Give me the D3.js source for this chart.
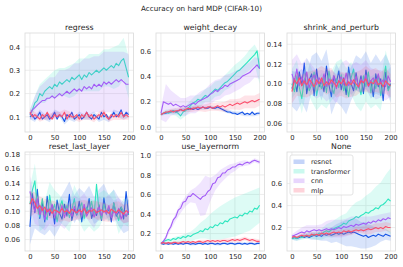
<!DOCTYPE html>
<html>
<head>
<meta charset="utf-8">
<script src="https://cdn.jsdelivr.net/npm/d3@7"></script>
<style>
  body { margin: 0; background: #fff; }
  text { font-family: "DejaVu Sans", sans-serif; fill: #262626; }
</style>
</head>
<body>
<script>
////// data: mean accuracy every 5 steps, spread every 10 steps

const models = ["resnet", "transformer", "cnn", "mlp"];
const colors = ["#1554e6", "#2ee6bf", "#a35cf7", "#fb4f6d"];
const steps = d3.range(0, 201, 5);
const sdSteps = d3.range(0, 201, 10);
const xTicks = [0, 50, 100, 150, 200];

const regressResnet = [0.10,0.11,0.09,0.10,0.12,0.09,0.10,0.11,0.09,0.10,0.12,0.09,0.11,0.10,0.08,0.11,0.10,0.12,0.09,0.10,0.11,0.09,0.10,0.12,0.10,0.09,0.11,0.10,0.09,0.12,0.10,0.11,0.09,0.10,0.12,0.10,0.11,0.13,0.10,0.12,0.11];
const regressTransformer = [0.11,0.13,0.16,0.17,0.20,0.19,0.21,0.22,0.23,0.22,0.24,0.23,0.25,0.24,0.25,0.26,0.25,0.27,0.26,0.27,0.28,0.26,0.28,0.27,0.29,0.28,0.29,0.30,0.29,0.30,0.31,0.30,0.31,0.32,0.31,0.33,0.32,0.34,0.35,0.31,0.27];
const regressCnn = [0.11,0.13,0.14,0.15,0.16,0.17,0.17,0.18,0.18,0.19,0.18,0.19,0.20,0.19,0.20,0.21,0.20,0.21,0.22,0.21,0.22,0.21,0.23,0.22,0.23,0.22,0.24,0.23,0.24,0.23,0.25,0.24,0.25,0.24,0.25,0.26,0.25,0.26,0.25,0.24,0.24];
const regressMlp = [0.12,0.10,0.11,0.10,0.09,0.11,0.10,0.12,0.10,0.09,0.11,0.10,0.11,0.10,0.12,0.09,0.11,0.10,0.10,0.11,0.09,0.11,0.10,0.12,0.10,0.11,0.09,0.10,0.11,0.10,0.12,0.10,0.09,0.11,0.10,0.11,0.10,0.12,0.10,0.11,0.10];
const regressResnetSd = [0.01,0.012,0.012,0.012,0.013,0.012,0.012,0.013,0.012,0.012,0.013,0.012,0.012,0.013,0.012,0.012,0.013,0.012,0.013,0.012,0.013];
const regressTransformerSd = [0.02,0.03,0.04,0.05,0.05,0.06,0.06,0.06,0.07,0.07,0.07,0.07,0.08,0.08,0.08,0.08,0.08,0.09,0.09,0.09,0.09];
const regressCnnSd = [0.02,0.05,0.07,0.08,0.09,0.09,0.10,0.10,0.11,0.11,0.11,0.12,0.12,0.12,0.12,0.13,0.13,0.13,0.13,0.13,0.13];
const regressMlpSd = [0.012,0.012,0.011,0.012,0.013,0.012,0.011,0.012,0.013,0.012,0.012,0.011,0.012,0.013,0.012,0.012,0.011,0.012,0.013,0.012,0.012];

const decayResnet = [0.10,0.11,0.11,0.12,0.12,0.13,0.12,0.13,0.14,0.13,0.14,0.14,0.15,0.14,0.15,0.14,0.15,0.16,0.15,0.15,0.16,0.15,0.15,0.16,0.15,0.14,0.13,0.12,0.12,0.11,0.11,0.10,0.11,0.12,0.10,0.11,0.10,0.12,0.10,0.11,0.11];
const decayTransformer = [0.10,0.11,0.12,0.11,0.12,0.13,0.12,0.11,0.09,0.12,0.13,0.15,0.17,0.19,0.20,0.22,0.21,0.23,0.25,0.24,0.26,0.28,0.30,0.29,0.31,0.33,0.35,0.36,0.38,0.40,0.42,0.44,0.45,0.47,0.49,0.51,0.53,0.55,0.57,0.60,0.46];
const decayCnn = [0.11,0.20,0.19,0.18,0.19,0.17,0.18,0.17,0.16,0.17,0.16,0.17,0.18,0.19,0.18,0.20,0.21,0.22,0.23,0.24,0.26,0.27,0.29,0.28,0.30,0.31,0.33,0.32,0.34,0.35,0.36,0.37,0.38,0.40,0.41,0.42,0.43,0.45,0.47,0.49,0.46];
const decayMlp = [0.10,0.11,0.12,0.12,0.13,0.12,0.13,0.13,0.14,0.13,0.14,0.15,0.14,0.15,0.15,0.16,0.15,0.16,0.15,0.16,0.16,0.15,0.16,0.17,0.16,0.17,0.16,0.17,0.18,0.17,0.18,0.19,0.18,0.19,0.20,0.19,0.20,0.21,0.20,0.21,0.22];
const decayResnetSd = [0.01,0.01,0.012,0.012,0.013,0.013,0.013,0.013,0.013,0.013,0.013,0.013,0.013,0.013,0.013,0.013,0.013,0.013,0.013,0.013,0.013];
const decayTransformerSd = [0.01,0.02,0.02,0.03,0.03,0.04,0.04,0.05,0.05,0.05,0.06,0.06,0.06,0.06,0.07,0.07,0.07,0.07,0.08,0.08,0.12];
const decayCnnSd = [0.05,0.15,0.10,0.08,0.07,0.07,0.07,0.07,0.07,0.07,0.08,0.08,0.08,0.08,0.08,0.08,0.08,0.08,0.08,0.08,0.08];
const decayMlpSd = [0.01,0.01,0.015,0.02,0.02,0.02,0.02,0.025,0.025,0.03,0.03,0.03,0.035,0.04,0.04,0.04,0.045,0.05,0.05,0.05,0.05];

const shrinkResnet = [0.095,0.105,0.092,0.112,0.098,0.121,0.090,0.104,0.110,0.088,0.115,0.097,0.103,0.092,0.118,0.099,0.087,0.108,0.101,0.113,0.094,0.106,0.089,0.117,0.100,0.093,0.111,0.096,0.108,0.090,0.114,0.099,0.103,0.087,0.110,0.097,0.105,0.083,0.112,0.095,0.100];
const shrinkTransformer = [0.100,0.092,0.108,0.096,0.085,0.104,0.110,0.093,0.099,0.112,0.088,0.102,0.095,0.107,0.091,0.113,0.098,0.090,0.105,0.096,0.109,0.093,0.101,0.087,0.106,0.115,0.094,0.100,0.089,0.108,0.097,0.112,0.091,0.104,0.095,0.109,0.088,0.102,0.118,0.093,0.099];
const shrinkCnn = [0.110,0.102,0.115,0.098,0.107,0.100,0.112,0.096,0.104,0.109,0.099,0.106,0.101,0.110,0.097,0.105,0.100,0.108,0.095,0.103,0.107,0.099,0.111,0.098,0.104,0.100,0.108,0.096,0.105,0.101,0.109,0.097,0.103,0.106,0.099,0.110,0.100,0.104,0.097,0.108,0.102];
const shrinkMlp = [0.092,0.104,0.100,0.106,0.098,0.103,0.099,0.105,0.101,0.097,0.104,0.100,0.106,0.098,0.102,0.099,0.104,0.101,0.097,0.103,0.100,0.105,0.098,0.102,0.099,0.104,0.100,0.097,0.103,0.101,0.105,0.098,0.102,0.100,0.104,0.099,0.101,0.097,0.103,0.100,0.098];
const shrinkResnetSd = [0.018,0.02,0.017,0.019,0.018,0.017,0.02,0.017,0.018,0.019,0.017,0.02,0.017,0.018,0.017,0.019,0.018,0.02,0.017,0.018,0.019];
const shrinkTransformerSd = [0.015,0.016,0.015,0.016,0.017,0.015,0.016,0.016,0.015,0.017,0.016,0.015,0.016,0.016,0.017,0.015,0.016,0.016,0.015,0.016,0.016];
const shrinkCnnSd = [0.014,0.015,0.013,0.014,0.015,0.014,0.013,0.015,0.014,0.015,0.014,0.013,0.015,0.014,0.014,0.015,0.013,0.015,0.014,0.014,0.015];
const shrinkMlpSd = [0.012,0.012,0.011,0.013,0.012,0.011,0.012,0.013,0.012,0.011,0.012,0.013,0.012,0.012,0.011,0.013,0.012,0.012,0.011,0.013,0.012];

const resetResnet = [0.078,0.125,0.098,0.131,0.090,0.112,0.085,0.121,0.094,0.108,0.082,0.116,0.097,0.089,0.110,0.093,0.124,0.087,0.103,0.095,0.114,0.085,0.106,0.098,0.118,0.090,0.101,0.094,0.109,0.087,0.119,0.096,0.104,0.085,0.112,0.093,0.099,0.106,0.089,0.128,0.095];
const resetTransformer = [0.110,0.130,0.143,0.105,0.092,0.118,0.096,0.088,0.123,0.100,0.110,0.085,0.104,0.115,0.097,0.108,0.091,0.102,0.118,0.095,0.103,0.112,0.090,0.106,0.099,0.114,0.093,0.138,0.101,0.089,0.110,0.097,0.105,0.092,0.112,0.098,0.087,0.106,0.100,0.093,0.097];
const resetCnn = [0.128,0.112,0.100,0.118,0.095,0.107,0.088,0.103,0.098,0.110,0.092,0.101,0.096,0.108,0.091,0.104,0.099,0.093,0.107,0.097,0.102,0.095,0.110,0.093,0.100,0.105,0.092,0.099,0.106,0.094,0.101,0.097,0.108,0.091,0.100,0.096,0.104,0.089,0.098,0.093,0.101];
const resetMlp = [0.110,0.118,0.112,0.104,0.108,0.101,0.106,0.099,0.103,0.097,0.102,0.100,0.098,0.104,0.099,0.101,0.097,0.103,0.100,0.098,0.102,0.099,0.104,0.097,0.101,0.100,0.103,0.098,0.100,0.102,0.099,0.101,0.097,0.103,0.100,0.098,0.102,0.099,0.096,0.101,0.098];
const resetResnetSd = [0.025,0.022,0.02,0.019,0.02,0.018,0.02,0.019,0.018,0.02,0.019,0.02,0.018,0.019,0.022,0.02,0.018,0.019,0.02,0.02,0.022];
const resetTransformerSd = [0.025,0.024,0.02,0.019,0.018,0.02,0.019,0.018,0.02,0.019,0.018,0.019,0.02,0.022,0.024,0.02,0.019,0.018,0.019,0.018,0.019];
const resetCnnSd = [0.022,0.018,0.016,0.015,0.016,0.015,0.015,0.016,0.015,0.015,0.016,0.015,0.015,0.016,0.015,0.015,0.016,0.015,0.015,0.015,0.016];
const resetMlpSd = [0.018,0.015,0.013,0.012,0.013,0.012,0.013,0.012,0.012,0.013,0.013,0.012,0.013,0.012,0.013,0.013,0.012,0.013,0.012,0.013,0.013];

const normResnet = [0.10,0.09,0.10,0.09,0.10,0.09,0.10,0.09,0.10,0.09,0.10,0.10,0.09,0.10,0.09,0.10,0.10,0.09,0.10,0.09,0.10,0.10,0.09,0.10,0.09,0.10,0.10,0.09,0.10,0.10,0.09,0.10,0.10,0.09,0.10,0.09,0.10,0.10,0.09,0.10,0.10];
const normTransformer = [0.10,0.12,0.13,0.14,0.13,0.15,0.14,0.16,0.15,0.17,0.16,0.18,0.17,0.19,0.20,0.21,0.23,0.22,0.25,0.24,0.27,0.26,0.29,0.28,0.31,0.30,0.33,0.32,0.35,0.36,0.37,0.36,0.39,0.38,0.41,0.40,0.43,0.42,0.46,0.45,0.49];
const normCnn = [0.10,0.12,0.16,0.23,0.27,0.34,0.37,0.44,0.46,0.52,0.53,0.58,0.58,0.61,0.59,0.57,0.55,0.58,0.59,0.63,0.65,0.71,0.72,0.77,0.78,0.82,0.82,0.85,0.86,0.88,0.88,0.90,0.91,0.90,0.92,0.93,0.92,0.94,0.95,0.94,0.93];
const normMlp = [0.10,0.11,0.10,0.11,0.10,0.11,0.11,0.10,0.11,0.12,0.11,0.12,0.11,0.12,0.11,0.12,0.12,0.11,0.12,0.13,0.12,0.13,0.12,0.13,0.12,0.13,0.13,0.12,0.13,0.14,0.13,0.14,0.13,0.14,0.15,0.14,0.13,0.14,0.13,0.12,0.12];
const normResnetSd = [0.01,0.01,0.012,0.01,0.012,0.01,0.012,0.01,0.012,0.01,0.012,0.01,0.012,0.01,0.012,0.01,0.012,0.01,0.012,0.01,0.012];
const normTransformerSd = [0.01,0.02,0.02,0.03,0.03,0.04,0.05,0.06,0.08,0.10,0.13,0.15,0.17,0.18,0.19,0.20,0.20,0.20,0.20,0.19,0.18];
const normCnnSd = [0.01,0.02,0.03,0.04,0.05,0.05,0.06,0.08,0.17,0.20,0.12,0.08,0.07,0.06,0.05,0.04,0.03,0.03,0.02,0.02,0.02];
const normMlpSd = [0.01,0.01,0.012,0.012,0.014,0.014,0.015,0.015,0.016,0.016,0.018,0.018,0.02,0.02,0.02,0.022,0.022,0.02,0.02,0.02,0.02];

const noneResnet = [0.10,0.11,0.10,0.11,0.12,0.11,0.12,0.11,0.12,0.13,0.12,0.13,0.12,0.14,0.13,0.14,0.13,0.14,0.15,0.14,0.15,0.14,0.15,0.16,0.15,0.16,0.15,0.14,0.13,0.12,0.13,0.11,0.12,0.13,0.12,0.14,0.13,0.12,0.14,0.13,0.12];
const noneTransformer = [0.10,0.11,0.10,0.12,0.11,0.12,0.13,0.12,0.13,0.14,0.13,0.15,0.14,0.16,0.17,0.16,0.18,0.19,0.20,0.21,0.22,0.24,0.23,0.26,0.27,0.28,0.30,0.29,0.31,0.32,0.34,0.33,0.35,0.36,0.38,0.37,0.40,0.41,0.43,0.46,0.44];
const noneCnn = [0.12,0.13,0.14,0.15,0.16,0.15,0.17,0.16,0.17,0.18,0.17,0.18,0.17,0.18,0.19,0.18,0.19,0.18,0.19,0.20,0.19,0.21,0.20,0.21,0.22,0.21,0.23,0.22,0.23,0.24,0.23,0.25,0.24,0.26,0.25,0.27,0.26,0.28,0.27,0.29,0.28];
const noneMlp = [0.11,0.12,0.11,0.12,0.13,0.12,0.13,0.12,0.14,0.13,0.14,0.13,0.15,0.14,0.15,0.14,0.15,0.16,0.15,0.16,0.15,0.17,0.16,0.17,0.16,0.17,0.18,0.17,0.18,0.17,0.18,0.19,0.18,0.19,0.20,0.19,0.20,0.19,0.21,0.20,0.20];
const noneResnetSd = [0.01,0.02,0.02,0.02,0.03,0.03,0.04,0.05,0.07,0.08,0.10,0.12,0.12,0.13,0.12,0.12,0.10,0.08,0.06,0.05,0.04];
const noneTransformerSd = [0.01,0.02,0.02,0.03,0.03,0.04,0.05,0.06,0.07,0.08,0.09,0.10,0.12,0.13,0.14,0.15,0.17,0.19,0.21,0.25,0.30];
const noneCnnSd = [0.02,0.03,0.04,0.05,0.05,0.05,0.06,0.07,0.08,0.08,0.08,0.08,0.08,0.07,0.07,0.07,0.06,0.06,0.06,0.06,0.06];
const noneMlpSd = [0.01,0.01,0.02,0.02,0.02,0.02,0.02,0.03,0.03,0.03,0.03,0.03,0.03,0.03,0.03,0.04,0.04,0.04,0.04,0.04,0.04];

// panel titles, y ranges and y ticks
const titles = ["regress", "weight_decay", "shrink_and_perturb", "reset_last_layer", "use_layernorm", "None"];
const yDomains = [[0.035, 0.46], [-0.037, 0.74], [0.0512, 0.1514], [0.0439, 0.1837], [0.022, 1.034], [-0.013, 0.887]];
const yTicks = [
    [0.1, 0.2, 0.3, 0.4],
    [0.0, 0.2, 0.4, 0.6],
    [0.06, 0.08, 0.10, 0.12, 0.14],
    [0.06, 0.08, 0.10, 0.12, 0.14, 0.16, 0.18],
    [0.2, 0.4, 0.6, 0.8, 1.0],
    [0.2, 0.4, 0.6]
];
const yFormats = [".1f", ".1f", ".2f", ".2f", ".1f", ".1f"];

const means = [
    [regressResnet, regressTransformer, regressCnn, regressMlp],
    [decayResnet, decayTransformer, decayCnn, decayMlp],
    [shrinkResnet, shrinkTransformer, shrinkCnn, shrinkMlp],
    [resetResnet, resetTransformer, resetCnn, resetMlp],
    [normResnet, normTransformer, normCnn, normMlp],
    [noneResnet, noneTransformer, noneCnn, noneMlp]
];
const spreads = [
    [regressResnetSd, regressTransformerSd, regressCnnSd, regressMlpSd],
    [decayResnetSd, decayTransformerSd, decayCnnSd, decayMlpSd],
    [shrinkResnetSd, shrinkTransformerSd, shrinkCnnSd, shrinkMlpSd],
    [resetResnetSd, resetTransformerSd, resetCnnSd, resetMlpSd],
    [normResnetSd, normTransformerSd, normCnnSd, normMlpSd],
    [noneResnetSd, noneTransformerSd, noneCnnSd, noneMlpSd]
];

//////


////// layout

const W = 403, H = 267;
const colX = [25, 156, 287];
const rowY = [33, 152];
const pw = 108.5, ph = 99;

const svg = d3.select("body").append("svg")
    .attr("width", W)
    .attr("height", H);

svg.append("text")
    .attr("x", 201.5)
    .attr("y", 11)
    .attr("text-anchor", "middle")
    .attr("font-size", 7.2)
    .text("Accuracy on hard MDP (CIFAR-10)");

titles.forEach((title, p) => {
    const left = colX[p % 3], top = rowY[Math.floor(p / 3)];
    const g = svg.append("g").attr("transform", `translate(${left},${top})`);

    const x = d3.scaleLinear().domain([-10, 210]).range([0, pw]);
    const y = d3.scaleLinear().domain(yDomains[p]).range([ph, 0]);

    // grid
    g.selectAll(".gx").data(xTicks).join("line")
        .attr("x1", d => x(d)).attr("x2", d => x(d))
        .attr("y1", 0).attr("y2", ph)
        .attr("stroke", "#e8e8e8").attr("stroke-width", 0.8);
    g.selectAll(".gy").data(yTicks[p]).join("line")
        .attr("x1", 0).attr("x2", pw)
        .attr("y1", d => y(d)).attr("y2", d => y(d))
        .attr("stroke", "#e8e8e8").attr("stroke-width", 0.8);

    const clipId = "clip" + p;
    g.append("clipPath").attr("id", clipId)
        .append("rect").attr("width", pw).attr("height", ph);
    const plot = g.append("g").attr("clip-path", `url(#${clipId})`);

    models.forEach((m, k) => {
        const vals = means[p][k];
        const sd = spreads[p][k];
        const band = sdSteps.map((s, i) => ({s: s, lo: vals[2 * i] - sd[i], hi: vals[2 * i] + sd[i]}));
        const area = d3.area()
            .x(d => x(d.s))
            .y0(d => y(d.lo))
            .y1(d => y(d.hi));
        plot.append("path")
            .attr("d", area(band))
            .attr("fill", colors[k])
            .attr("fill-opacity", 0.16);

        const line = d3.line()
            .x((d, i) => x(steps[i]))
            .y(d => y(d));
        plot.append("path")
            .attr("d", line(vals))
            .attr("fill", "none")
            .attr("stroke", colors[k])
            .attr("stroke-width", 1.1)
            .attr("stroke-linejoin", "round");
    });

    // frame
    g.append("rect")
        .attr("width", pw).attr("height", ph)
        .attr("fill", "none").attr("stroke", "#d9d9d9").attr("stroke-width", 0.8);

    const xAxis = g.append("g").attr("transform", `translate(0,${ph})`)
        .call(d3.axisBottom(x).tickValues(xTicks).tickSize(0).tickPadding(3.5));
    const yAxis = g.append("g")
        .call(d3.axisLeft(y).tickValues(yTicks[p]).tickSize(0).tickPadding(5).tickFormat(d3.format(yFormats[p])));
    [xAxis, yAxis].forEach(a => {
        a.select(".domain").remove();
        a.selectAll("text")
            .attr("font-family", "DejaVu Sans")
            .attr("font-size", 6.8)
            .attr("fill", "#3a3a3a");
    });

    g.append("text")
        .attr("x", pw / 2)
        .attr("y", -3.5)
        .attr("text-anchor", "middle")
        .attr("font-size", 7.8)
        .text(title);

    // legend lives in the last panel
    if (p === 5) {
        const lg = g.append("g").attr("transform", "translate(3,3)");
        lg.append("rect")
            .attr("width", 63).attr("height", 40).attr("rx", 2)
            .attr("fill", "#fff").attr("fill-opacity", 0.8)
            .attr("stroke", "#dcdcdc").attr("stroke-width", 0.8);
        models.forEach((m, k) => {
            lg.append("rect")
                .attr("x", 3.5).attr("y", 4.5 + k * 9.5)
                .attr("width", 11).attr("height", 4.5)
                .attr("fill", colors[k]).attr("fill-opacity", 0.25);
            lg.append("text")
                .attr("x", 21).attr("y", 9.3 + k * 9.5)
                .attr("font-size", 6.6)
                .text(m);
        });
    }
});
</script>
</body>
</html>
